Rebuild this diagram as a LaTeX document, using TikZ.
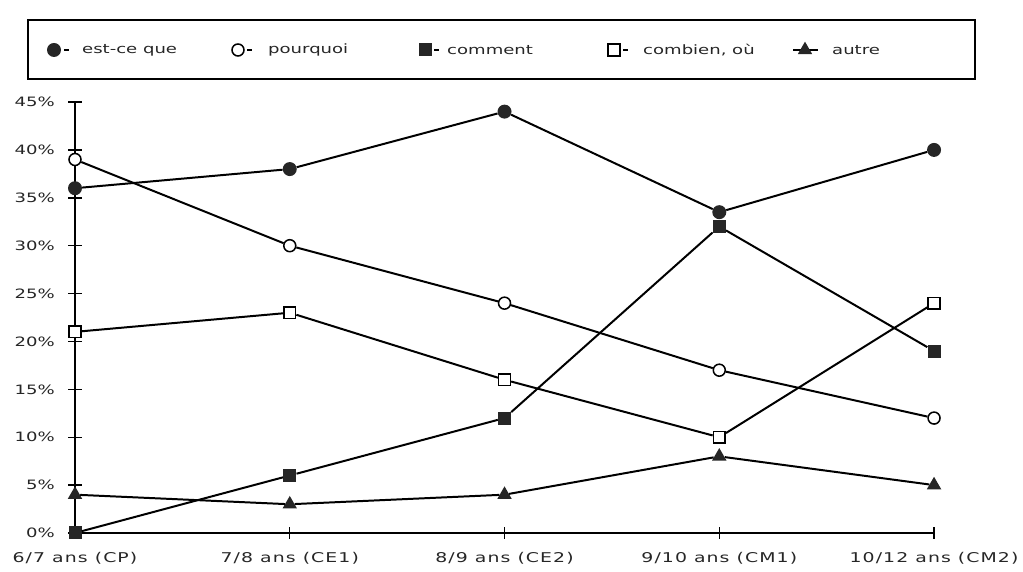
\documentclass[tikz,border=0pt]{standalone}
\usepackage{fontspec}
\newfontfamily\chartfont[FakeStretch=1.4]{DejaVu Sans}
\newfontfamily\agefont[FakeStretch=1.4,LetterSpace=8]{DejaVu Sans}
\usetikzlibrary{shapes.geometric}

\tikzset{
  dotfull/.style={circle,fill=black!85,inner sep=0pt,minimum size=0.42cm},
  dotopen/.style={circle,draw,line width=1.3pt,fill=white,inner sep=0pt,minimum size=0.36cm},
  boxfull/.style={rectangle,fill=black!85,inner sep=0pt,minimum size=0.39cm},
  boxopen/.style={rectangle,draw,line width=1.3pt,fill=white,inner sep=0pt,minimum size=0.35cm},
  trifull/.style={regular polygon,regular polygon sides=3,fill=black!85,inner sep=0pt,minimum size=0.5cm},
  dataline/.style={line width=1.7pt},
  axisline/.style={line width=1.2pt},
  ticklabel/.style={font=\chartfont\fontsize{11}{13}\selectfont,text=black!85,anchor=east,inner sep=0pt},
  agelabel/.style={font=\agefont\fontsize{11.5}{13}\selectfont,text=black!85,inner sep=0pt},
  keylabel/.style={font=\chartfont\fontsize{11}{13}\selectfont,text=black!85,anchor=west,inner sep=0pt},
}

\begin{document}
\begin{tikzpicture}[x=0.03cm,y=0.03cm]
\useasboundingbox (0,0) rectangle (1023,572);

% legend
\draw[line width=1.6pt] (28,493) rectangle (975,552);
\draw[dataline] (793,522) -- (818,522);
\node[dotfull] (key-est) at (54,522) {};
\node[dotopen] (key-pq) at (238,522) {};
\node[boxfull] (key-cmt) at (425,522) {};
\node[boxopen] (key-cbn) at (614,522) {};
\node[trifull] (key-aut) at (805,522) {};
\foreach \k in {est,pq,cmt,cbn}
  \draw[dataline] ([xshift=0.08cm]key-\k.east) -- ++(0.14cm,0);
\node[keylabel] (txt-est) at (82,522) {est-ce que};
\node[keylabel] (txt-pq) at (268,522) {pourquoi};
\node[keylabel] (txt-cmt) at (447,522) {comment};
\node[keylabel] (txt-cbn) at (643,522) {combien, où};
\node[keylabel] (txt-aut) at (832,522) {autre};

\begin{scope}[shift={(2.25cm,1.17cm)},x=6.4425cm,y=0.2873cm]
% axes
\draw[axisline] (0,0) -- (0,45);
\draw[axisline] (0,0) -- (4,0);
\foreach \t in {0,5,...,45} {
  \draw[axisline] ([xshift=-0.2cm]0,\t) -- ([xshift=0.2cm]0,\t);
  \node[ticklabel] (tick-\t) at ([xshift=-0.6cm]0,\t) {\t\%};
}
\foreach \i in {1,...,4}
  \draw[axisline] ([yshift=-0.18cm]\i,0) -- ([yshift=0.18cm]\i,0);
\foreach \lbl [count=\i from 0] in {{6/7 ans (CP)},{7/8 ans (CE1)},{8/9 ans (CE2)},{9/10 ans (CM1)},{10/12 ans (CM2)}}
  \node[agelabel] (age-\i) at ([yshift=-0.75cm]\i,0) {\lbl};

% series
\foreach \v [count=\i from 0] in {36,38,44,33.5,40}
  \node[dotfull] (est-\i) at (\i,\v) {};
\foreach \v [count=\i from 0] in {39,30,24,17,12}
  \node[dotopen] (pq-\i) at (\i,\v) {};
\foreach \v [count=\i from 0] in {0,6,12,32,19}
  \node[boxfull] (cmt-\i) at (\i,\v) {};
\foreach \v [count=\i from 0] in {21,23,16,10,24}
  \node[boxopen] (cbn-\i) at (\i,\v) {};
\foreach \v [count=\i from 0] in {4,3,4,8,5}
  \node[trifull] (aut-\i) at (\i,\v) {};

\draw[dataline] (est-0) -- (est-1) -- (est-2) -- (est-3) -- (est-4);
\draw[dataline] (pq-0) -- (pq-1) -- (pq-2) -- (pq-3) -- (pq-4);
\draw[dataline] (cmt-0) -- (cmt-1) -- (cmt-2) -- (cmt-3) -- (cmt-4);
\draw[dataline] (cbn-0) -- (cbn-1) -- (cbn-2) -- (cbn-3) -- (cbn-4);
\draw[dataline] (aut-0) -- (aut-1) -- (aut-2) -- (aut-3) -- (aut-4);
\end{scope}
\end{tikzpicture}
\end{document}
